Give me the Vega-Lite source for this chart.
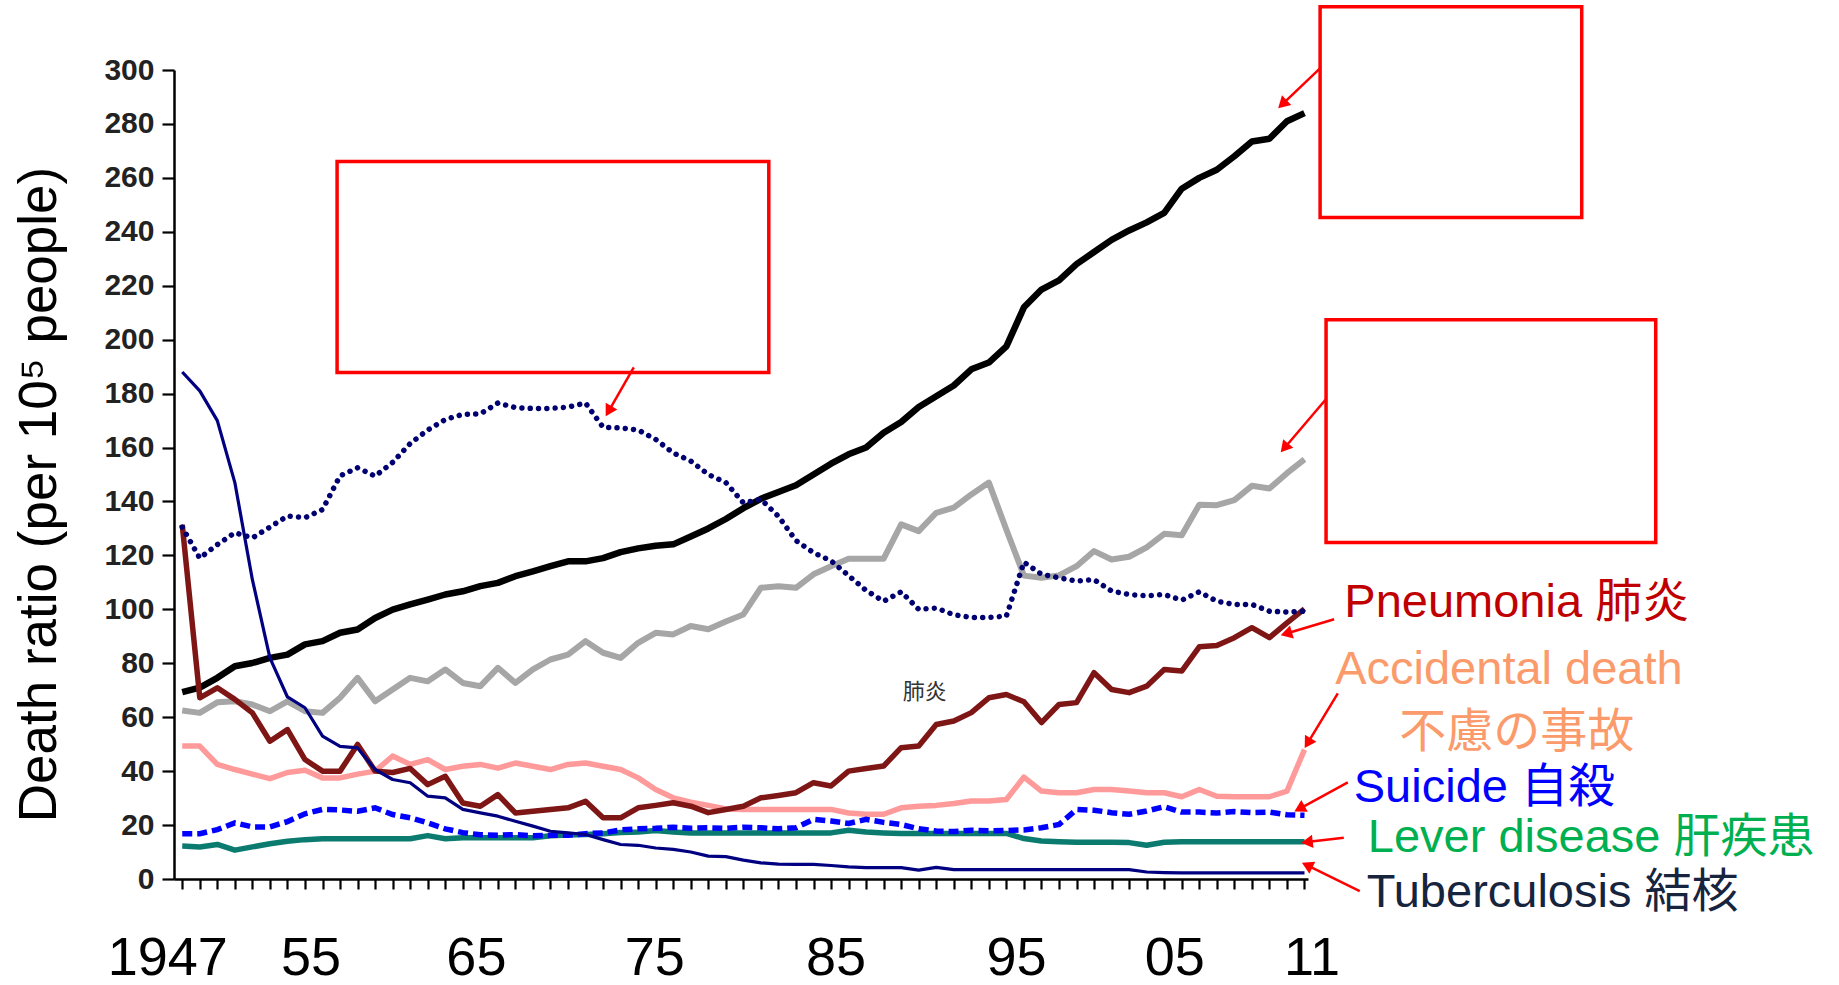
{
  "$schema": "https://vega.github.io/schema/vega-lite/v6.json",
  "autosize": {"type": "none"},
  "width": 1134,
  "height": 809,
  "padding": {"left": 174, "top": 70, "right": 531, "bottom": 106},
  "background": "white",
  "config": {
    "view": {"stroke": null},
    "axis": {"labelOverlap": false, "grid": false},
    "axisX": {
      "labelOverlap": false, "labelBound": false, "labelFlush": false,
      "labelFont": "Liberation Sans, Arial, sans-serif",
      "labelFontSize": 54, "labelFontWeight": "normal", "labelColor": "#000000",
      "labelPadding": 42,
      "tickSize": 10, "tickWidth": 2.2, "tickColor": "#000000",
      "domainColor": "#000000", "domainWidth": 2.5
    },
    "axisY": {
      "labelFont": "Liberation Sans, Arial, sans-serif", "labelFontWeight": "bold",
      "labelFontSize": 30, "labelColor": "#222222", "labelPadding": 8,
      "tickSize": 12, "tickWidth": 2.2, "tickColor": "#000000",
      "domainColor": "#000000", "domainWidth": 2.5,
      "titleFont": "Liberation Sans, Arial, sans-serif",
      "titleFontSize": 53, "titleFontWeight": "normal", "titleColor": "#000000",
      "titleAngle": -90, "titleX": -135, "titleY": 424,
      "titleAlign": "center", "titleBaseline": "middle"
    }
  },
  "datasets": {
    "series": [
      {"year":1947,"cancer":69.3,"heart":62.5,"cerebro":130.5,"pneu":131.4,"acc":49.3,"sui":16.8,"liver":12.2,"tb":188},
      {"year":1948,"cancer":71.0,"heart":61.6,"cerebro":119.0,"pneu":67.2,"acc":49.3,"sui":16.8,"liver":11.9,"tb":181},
      {"year":1949,"cancer":74.6,"heart":65.5,"cerebro":124.0,"pneu":70.9,"acc":42.5,"sui":18.3,"liver":12.8,"tb":170},
      {"year":1950,"cancer":78.9,"heart":65.9,"cerebro":128.4,"pneu":66.6,"acc":40.6,"sui":20.8,"liver":10.7,"tb":147},
      {"year":1951,"cancer":80.1,"heart":64.7,"cerebro":126.5,"pneu":61.6,"acc":38.9,"sui":19.3,"liver":11.9,"tb":111},
      {"year":1952,"cancer":82.0,"heart":62.2,"cerebro":130.5,"pneu":51.1,"acc":37.2,"sui":19.3,"liver":13.1,"tb":82},
      {"year":1953,"cancer":83.2,"heart":65.9,"cerebro":134.6,"pneu":55.4,"acc":39.5,"sui":21.3,"liver":14.0,"tb":67.5},
      {"year":1954,"cancer":87.0,"heart":62.2,"cerebro":134.0,"pneu":44.3,"acc":40.3,"sui":24.2,"liver":14.6,"tb":63.5},
      {"year":1955,"cancer":88.2,"heart":61.6,"cerebro":137.0,"pneu":40.0,"acc":37.5,"sui":25.8,"liver":14.9,"tb":53},
      {"year":1956,"cancer":91.3,"heart":67.2,"cerebro":149.5,"pneu":40.0,"acc":37.5,"sui":25.6,"liver":14.9,"tb":49.2},
      {"year":1957,"cancer":92.5,"heart":74.6,"cerebro":152.5,"pneu":49.9,"acc":38.9,"sui":25.1,"liver":14.9,"tb":48.6},
      {"year":1958,"cancer":96.8,"heart":65.9,"cerebro":149.4,"pneu":40.0,"acc":40.0,"sui":26.4,"liver":14.9,"tb":40.6},
      {"year":1959,"cancer":99.9,"heart":70.3,"cerebro":154.5,"pneu":39.5,"acc":45.6,"sui":23.9,"liver":14.9,"tb":36.9},
      {"year":1960,"cancer":101.8,"heart":74.6,"cerebro":161.5,"pneu":41.0,"acc":42.5,"sui":22.7,"liver":14.9,"tb":35.7},
      {"year":1961,"cancer":103.6,"heart":73.3,"cerebro":166.5,"pneu":35.0,"acc":44.3,"sui":20.8,"liver":16.1,"tb":30.7},
      {"year":1962,"cancer":105.5,"heart":77.7,"cerebro":170.4,"pneu":38.1,"acc":40.6,"sui":18.6,"liver":14.9,"tb":30.1},
      {"year":1963,"cancer":106.7,"heart":72.7,"cerebro":172.3,"pneu":28.2,"acc":41.8,"sui":17.2,"liver":15.3,"tb":25.8},
      {"year":1964,"cancer":108.6,"heart":71.5,"cerebro":172.5,"pneu":27.0,"acc":42.5,"sui":16.4,"liver":15.3,"tb":24.5},
      {"year":1965,"cancer":109.8,"heart":78.3,"cerebro":176.5,"pneu":31.3,"acc":41.1,"sui":16.2,"liver":15.3,"tb":23.3},
      {"year":1966,"cancer":112.3,"heart":72.7,"cerebro":174.8,"pneu":24.5,"acc":43.0,"sui":16.5,"liver":15.3,"tb":21.4},
      {"year":1967,"cancer":114.1,"heart":77.7,"cerebro":174.5,"pneu":25.1,"acc":41.8,"sui":16.0,"liver":15.3,"tb":19.6},
      {"year":1968,"cancer":116.0,"heart":81.4,"cerebro":174.5,"pneu":25.8,"acc":40.6,"sui":16.2,"liver":16.0,"tb":17.7},
      {"year":1969,"cancer":117.8,"heart":83.2,"cerebro":175.0,"pneu":26.4,"acc":42.5,"sui":16.2,"liver":16.3,"tb":17.1},
      {"year":1970,"cancer":117.8,"heart":88.2,"cerebro":176.5,"pneu":28.8,"acc":43.0,"sui":16.8,"liver":16.5,"tb":16.5},
      {"year":1971,"cancer":119.0,"heart":83.9,"cerebro":167.5,"pneu":22.7,"acc":41.8,"sui":17.1,"liver":16.8,"tb":14.6},
      {"year":1972,"cancer":121.2,"heart":82.0,"cerebro":167.3,"pneu":22.7,"acc":40.6,"sui":18.2,"liver":17.2,"tb":12.8},
      {"year":1973,"cancer":122.6,"heart":87.6,"cerebro":166.5,"pneu":26.4,"acc":37.5,"sui":18.6,"liver":17.4,"tb":12.5},
      {"year":1974,"cancer":123.6,"heart":91.3,"cerebro":163.0,"pneu":27.3,"acc":33.2,"sui":18.8,"liver":18.0,"tb":11.5},
      {"year":1975,"cancer":124.1,"heart":90.7,"cerebro":158.0,"pneu":28.3,"acc":30.1,"sui":19.2,"liver":17.4,"tb":11.0},
      {"year":1976,"cancer":127.0,"heart":93.8,"cerebro":155.0,"pneu":27.0,"acc":28.5,"sui":18.8,"liver":17.1,"tb":10.0},
      {"year":1977,"cancer":130.0,"heart":92.6,"cerebro":150.0,"pneu":24.6,"acc":27.3,"sui":19.0,"liver":17.1,"tb":8.5},
      {"year":1978,"cancer":133.5,"heart":95.5,"cerebro":147.0,"pneu":25.8,"acc":26.0,"sui":18.8,"liver":17.1,"tb":8.3},
      {"year":1979,"cancer":137.5,"heart":98.1,"cerebro":139.5,"pneu":27.0,"acc":25.8,"sui":19.2,"liver":17.1,"tb":7.0},
      {"year":1980,"cancer":141.0,"heart":108.0,"cerebro":140.8,"pneu":30.1,"acc":25.8,"sui":19.0,"liver":17.1,"tb":6.0},
      {"year":1981,"cancer":143.5,"heart":108.6,"cerebro":134.5,"pneu":31.0,"acc":25.8,"sui":18.6,"liver":17.1,"tb":5.5},
      {"year":1982,"cancer":146.0,"heart":108.0,"cerebro":125.5,"pneu":32.0,"acc":25.8,"sui":19.0,"liver":17.1,"tb":5.4},
      {"year":1983,"cancer":150.0,"heart":113.0,"cerebro":121.0,"pneu":35.7,"acc":25.8,"sui":22.1,"liver":17.1,"tb":5.4},
      {"year":1984,"cancer":154.0,"heart":116.0,"cerebro":118.0,"pneu":34.5,"acc":25.8,"sui":21.5,"liver":17.1,"tb":5.0},
      {"year":1985,"cancer":157.5,"heart":118.8,"cerebro":112.5,"pneu":40.0,"acc":24.5,"sui":20.6,"liver":18.1,"tb":4.5},
      {"year":1986,"cancer":160.0,"heart":118.8,"cerebro":107.0,"pneu":41.0,"acc":24.0,"sui":22.1,"liver":17.4,"tb":4.2},
      {"year":1987,"cancer":165.5,"heart":118.8,"cerebro":103.0,"pneu":41.9,"acc":24.0,"sui":21.0,"liver":17.1,"tb":4.2},
      {"year":1988,"cancer":169.5,"heart":131.5,"cerebro":106.5,"pneu":48.7,"acc":26.4,"sui":20.2,"liver":16.9,"tb":4.2},
      {"year":1989,"cancer":175.0,"heart":129.0,"cerebro":100.0,"pneu":49.3,"acc":27.0,"sui":18.6,"liver":16.9,"tb":3.3},
      {"year":1990,"cancer":179.0,"heart":135.8,"cerebro":100.5,"pneu":57.3,"acc":27.3,"sui":17.8,"liver":16.9,"tb":4.3},
      {"year":1991,"cancer":183.0,"heart":137.7,"cerebro":98.0,"pneu":58.6,"acc":28.0,"sui":17.6,"liver":16.9,"tb":3.5},
      {"year":1992,"cancer":189.0,"heart":142.6,"cerebro":97.0,"pneu":61.7,"acc":28.9,"sui":18.1,"liver":16.9,"tb":3.5},
      {"year":1993,"cancer":191.5,"heart":147.0,"cerebro":97.0,"pneu":67.2,"acc":28.9,"sui":17.9,"liver":16.9,"tb":3.5},
      {"year":1994,"cancer":197.5,"heart":129.5,"cerebro":97.5,"pneu":68.4,"acc":29.5,"sui":18.0,"liver":16.9,"tb":3.5},
      {"year":1995,"cancer":212.0,"heart":112.5,"cerebro":117.5,"pneu":65.7,"acc":37.8,"sui":18.2,"liver":15.0,"tb":3.5},
      {"year":1996,"cancer":218.6,"heart":111.7,"cerebro":113.0,"pneu":58.0,"acc":32.6,"sui":19.0,"liver":14.1,"tb":3.5},
      {"year":1997,"cancer":222.0,"heart":112.6,"cerebro":111.7,"pneu":64.7,"acc":32.0,"sui":20.2,"liver":13.8,"tb":3.5},
      {"year":1998,"cancer":228.0,"heart":116.0,"cerebro":110.5,"pneu":65.4,"acc":32.0,"sui":25.8,"liver":13.6,"tb":3.5},
      {"year":1999,"cancer":232.5,"heart":121.6,"cerebro":111.0,"pneu":76.5,"acc":33.2,"sui":25.5,"liver":13.6,"tb":3.5},
      {"year":2000,"cancer":237.0,"heart":118.5,"cerebro":106.8,"pneu":70.3,"acc":33.2,"sui":24.6,"liver":13.6,"tb":3.5},
      {"year":2001,"cancer":240.5,"heart":119.5,"cerebro":105.5,"pneu":69.1,"acc":32.6,"sui":24.0,"liver":13.5,"tb":3.5},
      {"year":2002,"cancer":243.5,"heart":123.0,"cerebro":105.0,"pneu":71.5,"acc":32.0,"sui":25.2,"liver":12.5,"tb":2.6},
      {"year":2003,"cancer":247.0,"heart":128.0,"cerebro":105.5,"pneu":77.7,"acc":32.0,"sui":26.8,"liver":13.6,"tb":2.4},
      {"year":2004,"cancer":256.0,"heart":127.5,"cerebro":103.4,"pneu":77.1,"acc":30.5,"sui":24.8,"liver":13.8,"tb":2.3},
      {"year":2005,"cancer":260.0,"heart":138.8,"cerebro":106.5,"pneu":86.1,"acc":33.2,"sui":24.8,"liver":13.8,"tb":2.3},
      {"year":2006,"cancer":263.0,"heart":138.6,"cerebro":103.0,"pneu":86.6,"acc":30.7,"sui":24.5,"liver":13.8,"tb":2.3},
      {"year":2007,"cancer":268.0,"heart":140.5,"cerebro":101.8,"pneu":89.5,"acc":30.5,"sui":25.0,"liver":13.8,"tb":2.3},
      {"year":2008,"cancer":273.5,"heart":145.8,"cerebro":101.8,"pneu":93.2,"acc":30.5,"sui":24.6,"liver":13.8,"tb":2.3},
      {"year":2009,"cancer":274.5,"heart":144.8,"cerebro":99.3,"pneu":89.5,"acc":30.5,"sui":24.8,"liver":13.8,"tb":2.3},
      {"year":2010,"cancer":281.0,"heart":150.5,"cerebro":99.0,"pneu":95.0,"acc":32.6,"sui":23.8,"liver":13.8,"tb":2.3},
      {"year":2011,"cancer":284.0,"heart":155.6,"cerebro":99.3,"pneu":100.2,"acc":48.0,"sui":23.6,"liver":13.8,"tb":2.3}
    ],
    "labels": [
      {"txt": "Pneumonia 肺炎", "cause": "pneu", "lx": 2013.27, "ly": 102.4},
      {"txt": "Accidental death", "cause": "acc", "lx": 2012.75, "ly": 77.5},
      {"txt": "不慮の事故", "cause": "acc", "lx": 2016.4, "ly": 54.2},
      {"txt": "Suicide 自殺", "cause": "sui", "lx": 2013.81, "ly": 33.9},
      {"txt": "Lever disease 肝疾患", "cause": "liver", "lx": 2014.61, "ly": 15.3},
      {"txt": "Tuberculosis 結核", "cause": "tb", "lx": 2014.55, "ly": -5.1}
    ],
    "notes": [
      {"txt": "肺炎", "nx": 1989.34, "ny": 69.2}
    ],
    "boxes": [
      {"bx1": 1955.83, "bx2": 1980.45, "by1": 187.8, "by2": 266.1},
      {"bx1": 2011.89, "bx2": 2026.81, "by1": 245.3, "by2": 323.5},
      {"bx1": 2012.23, "bx2": 2031.03, "by1": 124.8, "by2": 207.4}
    ],
    "arrows": [
      {"tx": 1972.75, "ty": 189.7, "hx": 1971.37, "hy": 174.1},
      {"tx": 2011.93, "ty": 300.9, "hx": 2009.82, "hy": 287.8},
      {"tx": 2012.21, "ty": 177.8, "hx": 2009.93, "hy": 160.4},
      {"tx": 2012.69, "ty": 96.3, "hx": 2010.07, "hy": 91.2},
      {"tx": 2012.9, "ty": 68.8, "hx": 2011.24, "hy": 51.0},
      {"tx": 2013.47, "ty": 35.8, "hx": 2010.81, "hy": 26.4},
      {"tx": 2013.24, "ty": 15.3, "hx": 2011.25, "hy": 13.8},
      {"tx": 2014.15, "ty": -4.5, "hx": 2011.25, "hy": 4.8}
    ]
  },
  "layer": [
    {
      "data": {"name": "series"},
      "transform": [{"fold": ["cancer","heart","cerebro","pneu","acc","sui","liver","tb"], "as": ["cause","rate"]}],
      "encoding": {
        "x": {"field": "year", "type": "quantitative",
              "scale": {"domain": [1946.53, 2011.2], "nice": false, "zero": false},
              "axis": {
                "title": null, "labelOverlap": false, "tickCount": 200,
                "labelOffset": {
                  "condition": [
                    {"test": "datum.value == 1947", "value": -15},
                    {"test": "datum.value == 1955", "value": -12},
                    {"test": "datum.value == 1965", "value": -22},
                    {"test": "datum.value == 1975", "value": -19},
                    {"test": "datum.value == 1985", "value": -13},
                    {"test": "datum.value == 1995", "value": -8},
                    {"test": "datum.value == 2005", "value": -25},
                    {"test": "datum.value == 2011", "value": 7}
                  ],
                  "value": 0
                },
                "values": [1947,1948,1949,1950,1951,1952,1953,1954,1955,1956,1957,1958,1959,1960,1961,1962,1963,1964,1965,1966,1967,1968,1969,1970,1971,1972,1973,1974,1975,1976,1977,1978,1979,1980,1981,1982,1983,1984,1985,1986,1987,1988,1989,1990,1991,1992,1993,1994,1995,1996,1997,1998,1999,2000,2001,2002,2003,2004,2005,2006,2007,2008,2009,2010,2011],
                "labelExpr": "indexof([1947,1955,1965,1975,1985,1995,2005,2011], datum.value) < 0 ? '' : (datum.value == 1947 ? '1947' : substring(toString(datum.value), 2, 4))"
              }},
        "y": {"field": "rate", "type": "quantitative",
              "scale": {"domain": [0, 300], "nice": false, "zero": true},
              "axis": {
                "title": "Death ratio (per 10⁵ people)", "tickCount": 50,
                "values": [0,20,40,60,80,100,120,140,160,180,200,220,240,260,280,300]
              }}
      },
      "layer": [
        {"transform": [{"filter": "datum.cause == 'heart'"}],
         "mark": {"type": "line", "color": "#a6a6a6", "strokeWidth": 6, "strokeJoin": "round"}},
        {"transform": [{"filter": "datum.cause == 'cancer'"}],
         "mark": {"type": "line", "color": "#000000", "strokeWidth": 6.5, "strokeJoin": "round"}},
        {"transform": [{"filter": "datum.cause == 'acc'"}],
         "mark": {"type": "line", "color": "#ff9a9a", "strokeWidth": 5.5, "strokeJoin": "round"}},
        {"transform": [{"filter": "datum.cause == 'pneu'"}],
         "mark": {"type": "line", "color": "#7f1616", "strokeWidth": 5.5, "strokeJoin": "round"}},
        {"transform": [{"filter": "datum.cause == 'liver'"}],
         "mark": {"type": "line", "color": "#0b7b70", "strokeWidth": 5.5, "strokeJoin": "round"}},
        {"transform": [{"filter": "datum.cause == 'sui'"}],
         "mark": {"type": "line", "color": "#0000ff", "strokeWidth": 5.5, "strokeDash": [10, 5]}},
        {"transform": [{"filter": "datum.cause == 'tb'"}],
         "mark": {"type": "line", "color": "#000080", "strokeWidth": 3.2, "strokeJoin": "round"}},
        {"transform": [{"filter": "datum.cause == 'cerebro'"}],
         "mark": {"type": "line", "color": "#000070", "strokeWidth": 5.5, "strokeCap": "round", "strokeDash": [0.01, 8.3]}}
      ]
    },
    {
      "data": {"name": "boxes"},
      "mark": {"type": "rect", "fillOpacity": 0, "stroke": "#ff0000", "strokeWidth": 3.5},
      "encoding": {
        "x": {"field": "bx1", "type": "quantitative", "scale": {"domain": [1946.53, 2011.2], "nice": false, "zero": false}},
        "x2": {"field": "bx2"},
        "y": {"field": "by1", "type": "quantitative", "scale": {"domain": [0, 300], "nice": false}},
        "y2": {"field": "by2"}
      }
    },
    {
      "data": {"name": "arrows"},
      "mark": {"type": "rule", "color": "#ff0000", "strokeWidth": 2.5},
      "encoding": {
        "x": {"field": "tx", "type": "quantitative", "scale": {"domain": [1946.53, 2011.2], "nice": false, "zero": false}},
        "x2": {"field": "hx"},
        "y": {"field": "ty", "type": "quantitative", "scale": {"domain": [0, 300], "nice": false}},
        "y2": {"field": "hy"}
      }
    },
    {
      "data": {"name": "arrows"},
      "transform": [{"calculate": "atan2((datum.hx - datum.tx) * 17.53, (datum.hy - datum.ty) * 2.697) * 180 / PI", "as": "ang"}],
      "mark": {"type": "point", "shape": "triangle", "filled": true, "color": "#ff0000", "opacity": 1, "size": 180, "strokeWidth": 0},
      "encoding": {
        "x": {"field": "hx", "type": "quantitative", "scale": {"domain": [1946.53, 2011.2], "nice": false, "zero": false}},
        "y": {"field": "hy", "type": "quantitative", "scale": {"domain": [0, 300], "nice": false}},
        "angle": {"field": "ang", "type": "quantitative", "scale": null}
      }
    },
    {
      "data": {"name": "notes"},
      "mark": {"type": "text", "align": "center", "baseline": "middle", "fontSize": 22, "color": "#333333", "font": "Noto Sans CJK JP, sans-serif"},
      "encoding": {
        "x": {"field": "nx", "type": "quantitative", "scale": {"domain": [1946.53, 2011.2], "nice": false, "zero": false}},
        "y": {"field": "ny", "type": "quantitative", "scale": {"domain": [0, 300], "nice": false}},
        "text": {"field": "txt"}
      }
    },
    {
      "data": {"name": "labels"},
      "mark": {"type": "text", "align": "left", "baseline": "middle", "fontSize": 47, "font": "Liberation Sans, Noto Sans CJK JP, sans-serif"},
      "encoding": {
        "x": {"field": "lx", "type": "quantitative", "scale": {"domain": [1946.53, 2011.2], "nice": false, "zero": false}},
        "y": {"field": "ly", "type": "quantitative", "scale": {"domain": [0, 300], "nice": false}},
        "text": {"field": "txt"},
        "color": {"field": "cause", "type": "nominal", "legend": null,
                  "scale": {"domain": ["pneu", "acc", "sui", "liver", "tb"], "range": ["#c00000", "#fb9a6a", "#0000ff", "#00b050", "#17243e"]}}
      }
    }
  ]
}
